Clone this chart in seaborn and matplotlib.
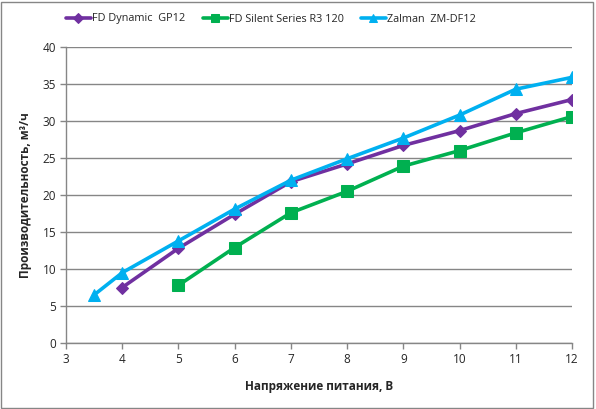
import matplotlib
matplotlib.use("Agg")
import matplotlib.pyplot as plt
import seaborn as sns
import pandas as pd

# Data
names = ["FD Dynamic  GP12", "FD Silent Series R3 120", "Zalman  ZM-DF12"]
x_gp12 = [4, 5, 6, 7, 8, 9, 10, 11, 12]
y_gp12 = [7.5, 12.8, 17.4, 21.8, 24.2, 26.7, 28.7, 31.0, 32.9]
x_r3 = [5, 6, 7, 8, 9, 10, 11, 12]
y_r3 = [7.8, 12.9, 17.6, 20.5, 23.9, 26.0, 28.4, 30.6]
x_zm = [3.5, 4, 5, 6, 7, 8, 9, 10, 11, 12]
y_zm = [6.5, 9.5, 13.8, 18.1, 22.0, 24.9, 27.7, 30.8, 34.3, 35.9]
x_ticks = [3, 4, 5, 6, 7, 8, 9, 10, 11, 12]
y_ticks = [0, 5, 10, 15, 20, 25, 30, 35, 40]

colors = ["#7030A0", "#00B050", "#00B0F0"]
markers = ["D", "s", "^"]
msizes = [6, 8, 8]

sns.set_style("white")
plt.rcParams['font.family'] = ['Open Sans', 'DejaVu Sans']

fig = plt.figure(figsize=(5.96, 4.09), dpi=100)
ax = fig.add_axes([66/596, (409-343)/409, (572-66)/596, (343-47)/409])

series = [(x_gp12, y_gp12), (x_r3, y_r3), (x_zm, y_zm)]
for (xs, ys), name, c, m, ms in zip(series, names, colors, markers, msizes):
    df = pd.DataFrame({"x": xs, "y": ys})
    sns.lineplot(data=df, x="x", y="y", ax=ax, color=c, marker=m,
                 markersize=ms, markeredgecolor=c, linewidth=2.6, label=name)

ax.set_xlim(3, 12)
ax.set_ylim(0, 40)
ax.set_xticks(x_ticks)
ax.set_yticks(y_ticks)
ax.tick_params(axis='both', labelsize=8.5, direction='out', length=4,
               color='#868686', width=1, pad=3, left=True, bottom=True)
ax.yaxis.grid(True, color='#868686', linewidth=1)
ax.xaxis.grid(False)
for s in ['top', 'right']:
    ax.spines[s].set_visible(False)
for s in ['left', 'bottom']:
    ax.spines[s].set_color('#868686')
    ax.spines[s].set_linewidth(1)
ax.set_axisbelow(True)

ax.set_xlabel("Напряжение питания, В", fontsize=8.5, fontweight='bold', labelpad=10)
ax.set_ylabel("Производительность, м³/ч", fontsize=8.5, fontweight='bold', labelpad=8)

leg = ax.legend(loc='center left', bbox_to_anchor=(66/596, (409-19)/409), bbox_transform=fig.transFigure,
                ncol=3, frameon=False, fontsize=7.8, handlelength=2.3, handletextpad=0.1,
                columnspacing=1.6, borderaxespad=0, borderpad=0, markerscale=0.8)

# outer border
fig.patches.append(plt.Rectangle((0.002, 0.003), 0.993, 0.993, transform=fig.transFigure,
                                 fill=False, edgecolor='#868686', linewidth=1))

fig.savefig("out.png", dpi=100)
